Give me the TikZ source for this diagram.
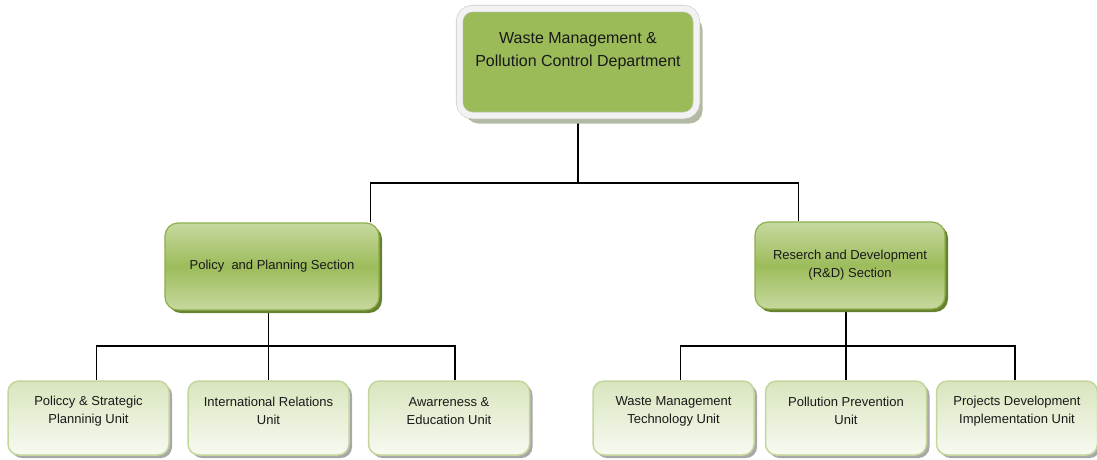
\documentclass[tikz,border=0pt]{standalone}
\usepackage{fontspec}
\setmainfont{Liberation Sans}
\usetikzlibrary{shadows}
\usetikzlibrary{backgrounds}

\definecolor{deptgreen}{HTML}{9BBB59}
\definecolor{deptframe}{HTML}{F2F2F2}
\definecolor{deptline}{HTML}{CACACA}
\definecolor{deptshade}{HTML}{B3BAA3}
\definecolor{sectop}{HTML}{C6D99F}
\definecolor{secmid}{HTML}{9DBC5B}
\definecolor{secedge}{HTML}{8DAE4A}
\definecolor{secshade}{HTML}{66822F}
\definecolor{unittop}{HTML}{F7FAF1}
\definecolor{unitbot}{HTML}{D9E5BE}
\definecolor{unitedge}{HTML}{C3D69B}
\definecolor{unitshade}{HTML}{A8A8A8}

\begin{document}
\begin{tikzpicture}[x=1pt,y=-1pt,
  dept/.style={rounded corners=13,fill=deptgreen,draw=deptline,line width=.6,double=deptframe,double distance=6,
    minimum width=237,minimum height=107,inner sep=0,
    drop shadow={shadow xshift=6,shadow yshift=8,fill=deptshade,opacity=1}},
  depttext/.style={align=center,font=\fontsize{16}{23}\selectfont,text=black!90,yshift=11},
  section/.style={rounded corners=13,draw=secedge,line width=1.2,top color=sectop,bottom color=sectop,middle color=secmid,
    minimum height=87,inner sep=0,align=center,font=\fontsize{13}{18}\selectfont,text=black!90,
    drop shadow={shadow xshift=3,shadow yshift=3,fill=secshade,opacity=1}},
  unit/.style={rounded corners=11,draw=unitedge,line width=1.5,top color=unitbot,bottom color=unittop,
    minimum width=161,minimum height=74,inner sep=0,
    drop shadow={shadow xshift=3,shadow yshift=3,fill=unitshade,opacity=1}},
  unittext/.style={align=center,font=\fontsize{13}{18}\selectfont,text=black!90,yshift=7},
  link/.style={line width=1.6,black}]
\useasboundingbox (0,0) rectangle (1097,459);

\node[dept,label={[depttext]center:Waste Management \&\\Pollution Control Department}] (dept) at (578,62) {};

\node[section,minimum width=214] (pol) at (272,266.5) {Policy\ \ and Planning Section};
\node[section,minimum width=190] (rd) at (850,265.5) {Reserch and Development\\(R\&D) Section};

\node[unit,label={[unittext]center:Policcy \& Strategic\\Planninig Unit}] (u1) at (88.5,418) {};
\node[unit,label={[unittext]center:International Relations\\Unit}] (u2) at (268.5,418) {};
\node[unit,label={[unittext]center:Awarreness \&\\Education Unit}] (u3) at (449,418) {};
\node[unit,label={[unittext]center:Waste Management\\Technology Unit}] (u4) at (673.5,418) {};
\node[unit,label={[unittext]center:Pollution Prevention\\Unit}] (u5) at (846,418) {};
\node[unit,label={[unittext]center:Projects Development\\Implementation Unit}] (u6) at (1017,418) {};

\begin{scope}[on background layer]
\draw[link] (dept.south) -- ++(0,67) -| ([xshift=-9]pol.north east);
\draw[link] (dept.south) -- ++(0,67) -| ([xshift=44]rd.north west);
\draw[link] ([xshift=8]u1.north) -- ++(0,-34) -| ([xshift=6]u3.north);
\draw[link] (pol.south -| u2.north) -- (u2.north);
\draw[link] ([xshift=7]u4.north) -- ++(0,-34) -| ([xshift=-2]u6.north);
\draw[link] (rd.south -| u5.north) -- (u5.north);
\end{scope}
\end{tikzpicture}
\end{document}
